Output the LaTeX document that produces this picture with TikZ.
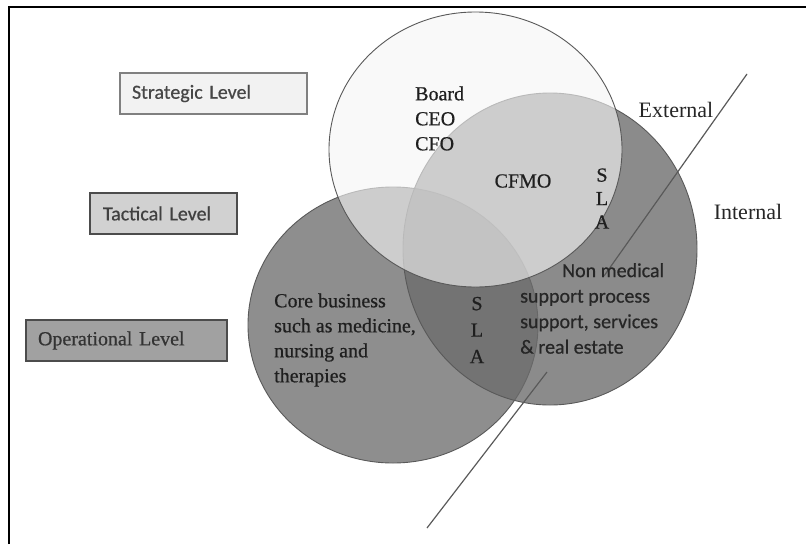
\documentclass[tikz,border=0pt]{standalone}
\usepackage{fontspec}
\setmainfont{Liberation Serif}
\newfontfamily\heavyserif{Liberation Serif}[FakeBold=0.6]
\newfontfamily\calib{Carlito}[FakeBold=0.6]
\begin{document}
\begin{tikzpicture}[x=1pt,y=-1pt,
  serif/.style={font=\heavyserif\fontsize{20}{25}\selectfont, text=black!88, inner sep=0pt},
  sans/.style={font=\calib\fontsize{20}{25}\selectfont, text=black!85, inner sep=0pt},
  levelbox/.style={draw, line width=1.3pt, minimum height=41pt, inner ysep=0pt,
    align=left, anchor=center},
  zone/.style={draw=black!65, line width=0.9pt},
  divider/.style={draw=black!65, line width=1.2pt}
]
\useasboundingbox (0,0) rectangle (806,544);

% frame on the left and top edges
\draw[line width=2.5pt] (9,544) -- (9,7) -- (806,7);

% management levels
\node[levelbox, fill=black!5, draw=black!50, inner xsep=12pt, text width=163pt,
  font=\calib\fontsize{20}{24}\selectfont, text=black!72] (strat) at (213.5,93.5) {Strategic Level};
\node[levelbox, fill=black!18, draw=black!70, inner xsep=13pt, text width=121pt,
  font=\calib\fontsize{20}{24}\selectfont, text=black!75] (tact) at (163.5,213.5) {Tactical Level};
\node[levelbox, fill=black!37, draw=black!70, inner xsep=12pt, text width=177pt,
  font=\heavyserif\fontsize{20}{24}\selectfont, text=black!80] (oper) at (126.5,340.5) {Operational Level};

% operational circles
\fill[black!58, opacity=0.76] (393,325) ellipse [x radius=145, y radius=138];
\draw[zone] (393,325) ellipse [x radius=145, y radius=138];
\fill[black!58, opacity=0.78] (550,249) ellipse [x radius=147, y radius=156];
\draw[zone] (550,249) ellipse [x radius=147, y radius=156];

% strategic circle on top
\fill[black!4, opacity=0.62] (475.5,149.5) ellipse [x radius=146.5, y radius=137.5];
\draw[zone] (475.5,149.5) ellipse [x radius=146.5, y radius=137.5];

% external / internal divider
\coordinate (d1) at (747,74);
\coordinate (d2) at (604,276);
\coordinate (d3) at (547,372);
\coordinate (d4) at (427,528);
\draw[divider] (d1) -- (d2);
\draw[divider] (d3) -- (d4);

% labels
\node[serif, align=left, anchor=west] (board) at (415,118.5) {Board\\CEO\\CFO};
\node[serif] (cfmo) at (523,181) {CFMO};
\node[serif, align=center, font=\heavyserif\fontsize{20}{23.5}\selectfont] (sla1) at (602,198.5) {S\\L\\A};
\node[serif, align=center, font=\heavyserif\fontsize{20}{26.5}\selectfont] (sla2) at (477,330) {S\\L\\A};
\node[serif, align=left, anchor=west] (core) at (274,340)
  {Core business\\such as medicine,\\nursing and\\therapies};
\node[sans, align=left, anchor=west, font=\calib\fontsize{20}{25.5}\selectfont] (nonmed) at (520,308.5)
  {\hspace*{42pt}Non medical\\support process\\support, services\\\& real estate};
\node[font=\fontsize{22}{26}\selectfont, text=black!85, inner sep=0pt] (ext) at (676,110) {External};
\node[font=\fontsize{22}{26}\selectfont, text=black!85, inner sep=0pt] (int) at (748,212) {Internal};
\end{tikzpicture}
\end{document}
